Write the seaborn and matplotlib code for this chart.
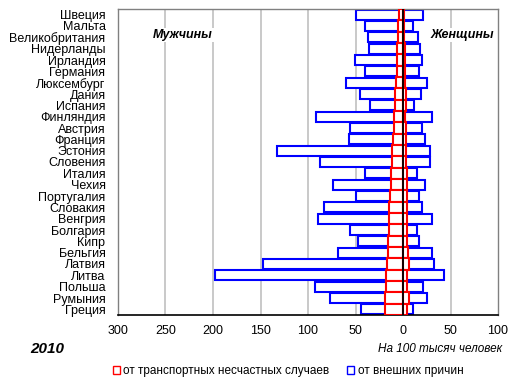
import numpy as np
import matplotlib
matplotlib.use("Agg")
import matplotlib.pyplot as plt
import seaborn as sns
from matplotlib.patches import Patch

sns.set_style("white")
plt.rcParams['font.family'] = ['Liberation Sans', 'DejaVu Sans']
plt.rcParams['text.color'] = 'black'
plt.rcParams['xtick.color'] = 'black'
plt.rcParams['ytick.color'] = 'black'

countries = ['Швеция', 'Мальта', 'Великобритания', 'Нидерланды', 'Ирландия',
             'Германия', 'Люксембург', 'Дания', 'Испания', 'Финляндия',
             'Австрия', 'Франция', 'Эстония', 'Словения', 'Италия', 'Чехия',
             'Португалия', 'Словакия', 'Венгрия', 'Болгария', 'Кипр',
             'Бельгия', 'Латвия', 'Литва', 'Польша', 'Румыния', 'Греция']

# от внешних причин, на 100 тыс.
ext_men = [50, 40.5, 36.5, 35.5, 51, 40.5, 60.5, 45, 34.5, 92,
           56, 57, 133, 87, 39.5, 74, 50, 83.5, 90, 56,
           47, 68, 147.5, 198, 93, 77, 44]
ext_women = [21, 11, 16, 18, 20, 17, 25.5, 19, 12, 31,
             20, 23.5, 28.5, 28.5, 15, 23.5, 17, 20, 30, 15,
             17, 31, 33, 43.5, 21, 25.5, 11]

# от транспортных несчастных случаев
tr_men = [4.2, 5.2, 5.2, 6.3, 6.3, 6.3, 7.3, 8.4, 8.4, 9.4,
          9.4, 10.5, 11.5, 11.5, 12.6, 12.6, 13.6, 14.7, 14.7, 14.7,
          15.7, 15.7, 16.8, 17.8, 17.8, 18.9, 18.9]
tr_women = [1.2, 1.2, 1.2, 2.1, 2.1, 2.1, 2.1, 3.1, 3.1, 2.1,
            3.1, 3.1, 3.1, 3.1, 4.2, 4.2, 4.2, 4.2, 4.2, 4.2,
            4.2, 5.2, 6.3, 4.2, 4.2, 6.3, 4.2]

xticks = [-300, -250, -200, -150, -100, -50, 0, 50, 100]

fig = plt.figure(figsize=(5.18, 3.91), dpi=100)
ax = fig.add_axes([118 / 518, 1 - 315 / 391, 380 / 518, 306 / 391])

for v in xticks[1:-1]:
    if v != 0:
        ax.axvline(v, color='#c0c0c0', lw=1.2, zorder=0)

blue_kw = dict(y=countries, color='white', edgecolor='#0000ff', linewidth=1.5,
               width=0.86, saturation=1, orient='h', ax=ax, zorder=2)
sns.barplot(x=-np.array(ext_men), **blue_kw)
sns.barplot(x=np.array(ext_women), **blue_kw)

red_kw = dict(y=countries, color='white', edgecolor='#ff0000', linewidth=1.5,
              width=0.98, saturation=1, orient='h', ax=ax, zorder=3)
sns.barplot(x=-np.array(tr_men), **red_kw)
sns.barplot(x=np.array(tr_women), **red_kw)

ax.axvline(0, color='black', lw=1.3, zorder=5)

ax.set_xlim(-300, 100)
ax.set_ylim(len(countries) - 0.5, -0.5)
ax.set_xticks(xticks)
ax.set_xticklabels([str(abs(v)) for v in xticks], fontsize=9)
ax.tick_params(axis='both', length=0, labelsize=9, colors='black')
ax.tick_params(axis='x', pad=7)
ax.tick_params(axis='y', pad=9)
ax.set_xlabel('')
ax.set_ylabel('')

for s in ['top', 'right', 'left']:
    ax.spines[s].set_color('#808080')
    ax.spines[s].set_linewidth(1)
ax.spines['bottom'].set_color('black')
ax.spines['bottom'].set_linewidth(1.2)

bb = dict(facecolor='white', edgecolor='none', pad=1)
ax.text(-232, 1.8, 'Мужчины', fontsize=9, fontweight='bold', fontstyle='italic',
        ha='center', va='center', bbox=bb, zorder=6)
ax.text(62, 1.8, 'Женщины', fontsize=9, fontweight='bold', fontstyle='italic',
        ha='center', va='center', bbox=bb, zorder=6)

fig.text(30 / 518, 1 - 349 / 391, '2010', fontsize=11, fontweight='bold',
         fontstyle='italic', ha='left', va='center')
fig.text(502 / 518, 1 - 349 / 391, 'На 100 тысяч человек', fontsize=8.5,
         fontstyle='italic', ha='right', va='center')

handles = [Patch(facecolor='white', edgecolor='#ff0000', lw=1),
           Patch(facecolor='white', edgecolor='#0000ff', lw=1)]
fig.legend(handles, ['от транспортных несчастных случаев', 'от внешних причин'],
           loc='center', bbox_to_anchor=(288 / 518, 1 - 371 / 391), ncol=2,
           frameon=False, fontsize=8.5, handlelength=0.6, handleheight=0.6,
           handletextpad=0.3, columnspacing=1.5)

fig.savefig('out.png', dpi=100)
